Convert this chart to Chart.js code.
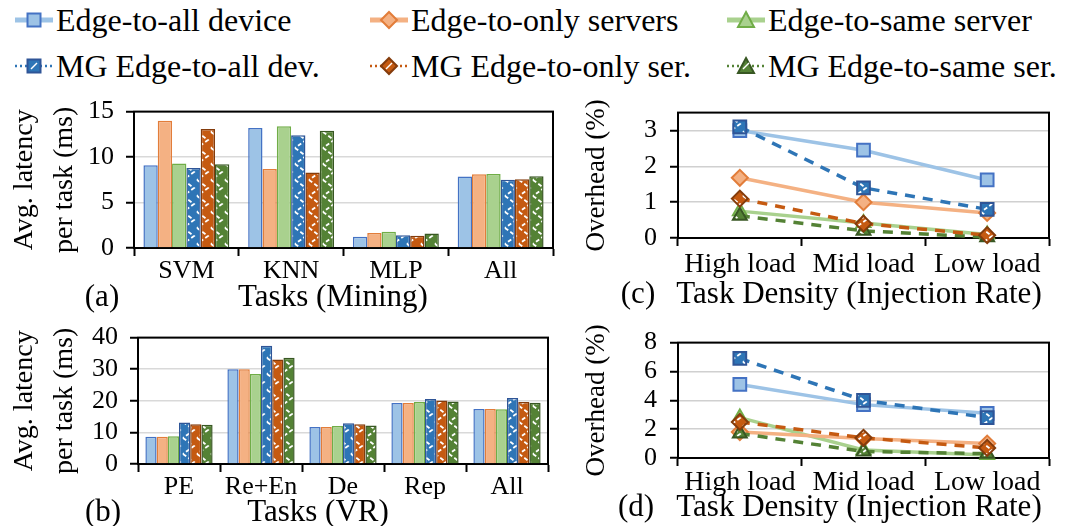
<!DOCTYPE html>
<html>
<head>
<meta charset="utf-8">
<script src="https://cdn.jsdelivr.net/npm/chart.js@4"></script>
<style>
  body { margin: 0; background: #fff; font-family: "Liberation Serif", "Times New Roman", serif; color: #000; }
  #page { position: relative; width: 1065px; height: 526px; overflow: hidden; }
  canvas { position: absolute; }
  .lbl { position: absolute; font-size: 31px; line-height: 1; white-space: nowrap; transform: translate(-50%, -50%); }
  .leg { position: absolute; font-size: 32px; line-height: 1; white-space: nowrap; display: flex; align-items: center; transform: translateY(-50%); }
  .leg svg { margin-right: 2px; }
</style>
</head>
<body>
<div id="page">
  <div id="legend"></div>
  <canvas id="chartA" width="560" height="200" style="left:0;top:84px"></canvas>
  <canvas id="chartB" width="560" height="190" style="left:0;top:310px"></canvas>
  <canvas id="chartC" width="505" height="200" style="left:560px;top:84px"></canvas>
  <canvas id="chartD" width="505" height="190" style="left:560px;top:314px"></canvas>
  <div class="lbl" style="left:102px;top:295px">(a)</div>
  <div class="lbl" style="left:333px;top:295px">Tasks (Mining)</div>
  <div class="lbl" style="left:103px;top:510px">(b)</div>
  <div class="lbl" style="left:318px;top:510px">Tasks (VR)</div>
  <div class="lbl" style="left:638px;top:292px">(c)</div>
  <div class="lbl" style="left:859px;top:292px">Task Density (Injection Rate)</div>
  <div class="lbl" style="left:636px;top:505px">(d)</div>
  <div class="lbl" style="left:859px;top:505px">Task Density (Injection Rate)</div>
</div>
<script>
/* ==================== DATA ==================== */
const seriesNames = ['Edge-to-all device', 'Edge-to-only servers', 'Edge-to-same server',
                     'MG Edge-to-all dev.', 'MG Edge-to-only ser.', 'MG Edge-to-same ser.'];

// (a) latency, mining tasks (ms)
const miningTasks = ['SVM', 'KNN', 'MLP', 'All'];
const miningAllDev    = [9.1, 13.2, 1.25, 7.85];
const miningOnlySrv   = [14.0, 8.7, 1.65, 8.1];
const miningSameSrv   = [9.3, 13.4, 1.8, 8.15];
const miningMgAllDev  = [8.8, 12.4, 1.4, 7.5];
const miningMgOnlySrv = [13.1, 8.3, 1.35, 7.55];
const miningMgSameSrv = [9.2, 12.9, 1.6, 7.9];

// (b) latency, VR tasks (ms)
const vrTasks = ['PE', 'Re+En', 'De', 'Rep', 'All'];
const vrAllDev    = [8.6, 30.0, 11.7, 19.3, 17.4];
const vrOnlySrv   = [8.6, 30.0, 11.7, 19.3, 17.4];
const vrSameSrv   = [8.8, 28.5, 12.0, 19.6, 17.3];
const vrMgAllDev  = [13.1, 37.4, 12.9, 20.6, 20.9];
const vrMgOnlySrv = [12.6, 33.1, 12.6, 20.1, 19.6];
const vrMgSameSrv = [12.4, 33.6, 12.2, 19.8, 19.4];

// (c) overhead, mining (%)
const loads = ['High load', 'Mid load', 'Low load'];
const ohMiningAllDev    = [3.0, 2.45, 1.62];
const ohMiningOnlySrv   = [1.68, 1.0, 0.7];
const ohMiningSameSrv   = [0.75, 0.42, 0.1];
const ohMiningMgAllDev  = [3.1, 1.4, 0.8];
const ohMiningMgOnlySrv = [1.1, 0.4, 0.08];
const ohMiningMgSameSrv = [0.62, 0.2, 0.02];

// (d) overhead, VR (%)
const ohVrAllDev    = [5.1, 3.7, 3.1];
const ohVrOnlySrv   = [1.8, 1.35, 1.0];
const ohVrSameSrv   = [2.8, 0.55, 0.2];
const ohVrMgAllDev  = [6.9, 4.0, 2.8];
const ohVrMgOnlySrv = [2.5, 1.4, 0.7];
const ohVrMgSameSrv = [1.7, 0.45, 0.3];

/* ==================== STYLE ==================== */
const fills  = ['#9DC3E6', '#F4B183', '#A9D18E', '#2E75B6', '#C55A11', '#548235'];
const edges  = ['#4472C4', '#E27D3A', '#70AD47', '#2F5597', '#843C0C', '#385723'];
const shapes = ['rect', 'rectRot', 'triangle', 'rect', 'rectRot', 'triangle'];

Chart.defaults.font.family = 'Liberation Serif';
Chart.defaults.color = '#000';

// white dashed zig-zag used on the MG bars / markers
function zigzag(color) {
  const c = document.createElement('canvas');
  c.width = 14; c.height = 16;
  const g = c.getContext('2d');
  g.fillStyle = color;
  g.fillRect(0, 0, 14, 16);
  g.strokeStyle = '#fff';
  g.lineWidth = 1.8;
  g.setLineDash([4, 2.5]);
  g.beginPath();
  g.moveTo(1, 0); g.lineTo(12, 8); g.lineTo(1, 16);
  g.stroke();
  return g.createPattern(c, 'repeat');
}
const barFill = fills.map((f, i) => i >= 3 ? zigzag(f) : f);

// black frame round the plot area
const framePlugin = {
  id: 'frame',
  beforeDatasetsDraw(chart) {
    const { ctx, chartArea: a } = chart;
    ctx.save();
    ctx.strokeStyle = '#000';
    ctx.lineWidth = 2;
    ctx.strokeRect(a.left, a.top, a.right - a.left, a.bottom - a.top);
    ctx.restore();
  }
};

/* ==================== LEGEND ==================== */
function iconSvg(i) {
  const mg = i >= 3;
  const line = mg
    ? `<line x1="1" y1="12" x2="39" y2="12" stroke="${fills[i]}" stroke-width="2.5" stroke-dasharray="2 3"/>`
    : `<line x1="1" y1="12" x2="39" y2="12" stroke="${fills[i]}" stroke-width="5"/>`;
  let m;
  if (shapes[i] === 'rect') m = `<rect x="13.5" y="5.5" width="13" height="13" fill="${fills[i]}" stroke="${edges[i]}" stroke-width="2"/>`;
  else if (shapes[i] === 'rectRot') m = `<polygon points="20,4 28,12 20,20 12,12" fill="${fills[i]}" stroke="${edges[i]}" stroke-width="2"/>`;
  else m = `<polygon points="20,4 28,19 12,19" fill="${fills[i]}" stroke="${edges[i]}" stroke-width="2"/>`;
  const slash = mg ? `<line x1="17" y1="15" x2="23" y2="9" stroke="#fff" stroke-width="1.5"/>` : '';
  return `<svg width="40" height="24" viewBox="0 0 40 24">${line}${m}${slash}</svg>`;
}
const legX = [14, 369, 726];
const legY = [20, 66];
document.getElementById('legend').innerHTML = seriesNames.map((n, i) =>
  `<div class="leg" style="left:${legX[i % 3]}px;top:${legY[Math.floor(i / 3)]}px">${iconSvg(i)}<span>${n}</span></div>`
).join('');

/* ==================== BAR CHARTS ==================== */
function barChart(id, labels, series, yMax, yStep, yWidth, padRight) {
  new Chart(document.getElementById(id), {
    type: 'bar',
    data: {
      labels,
      datasets: series.map((d, i) => ({
        label: seriesNames[i],
        data: d,
        backgroundColor: barFill[i],
        borderColor: edges[i],
        borderWidth: 1.5,
        categoryPercentage: 0.82,
        barPercentage: 1.0
      }))
    },
    options: {
      responsive: false,
      animation: false,
      devicePixelRatio: 1,
      layout: { padding: { top: 17, right: padRight, left: 0, bottom: 0 } },
      plugins: { legend: { display: false }, tooltip: { enabled: false } },
      scales: {
        x: {
          offset: true,
          grid: { offset: true, drawOnChartArea: false, tickLength: 8, tickColor: '#000', tickWidth: 2 },
          border: { color: '#000', width: 2 },
          ticks: { font: { size: 26 }, padding: 0, maxRotation: 0, autoSkip: false },
          afterFit: s => { s.height = 36; }
        },
        y: {
          min: 0, max: yMax,
          grid: { color: '#d9d9d9', lineWidth: 1.5, tickLength: 8, tickColor: '#000', tickWidth: 2 },
          border: { color: '#000', width: 2 },
          ticks: { stepSize: yStep, font: { size: 26 }, padding: 12, autoSkip: false },
          title: {
            display: true,
            text: ['Avg. latency', 'per task (ms)'],
            font: { size: 28, lineHeight: 1.43 },
            padding: { top: 5, bottom: 0 }
          },
          afterFit: s => { s.width = yWidth; }
        }
      }
    },
    plugins: [framePlugin]
  });
}

barChart('chartA', miningTasks,
  [miningAllDev, miningOnlySrv, miningSameSrv, miningMgAllDev, miningMgOnlySrv, miningMgSameSrv], 15, 5, 134, 7);
barChart('chartB', vrTasks,
  [vrAllDev, vrOnlySrv, vrSameSrv, vrMgAllDev, vrMgOnlySrv, vrMgSameSrv], 40, 10, 138, 12);

/* ==================== LINE CHARTS ==================== */
function lineChart(id, series, yMax, yStep, tickPad) {
  new Chart(document.getElementById(id), {
    type: 'line',
    data: {
      labels: loads,
      datasets: series.map((d, i) => {
        const mg = i >= 3;
        return {
          label: seriesNames[i],
          data: d,
          borderColor: fills[i],
          borderWidth: 3.5,
          borderDash: mg ? [10, 8] : [],
          tension: 0,
          clip: false,
          pointStyle: shapes[i],
          pointRadius: shapes[i] === 'rect' ? 9 : 8,
          pointBackgroundColor: mg ? barFill[i] : fills[i],
          pointBorderColor: edges[i],
          pointBorderWidth: 2,
          order: mg ? 0 : 1
        };
      })
    },
    options: {
      responsive: false,
      animation: false,
      devicePixelRatio: 1,
      layout: { padding: { top: 16.5, right: 16, left: 0, bottom: 0 } },
      plugins: { legend: { display: false }, tooltip: { enabled: false } },
      scales: {
        x: {
          offset: true,
          grid: { offset: true, drawOnChartArea: false, tickLength: 8, tickColor: '#000', tickWidth: 2 },
          border: { color: '#000', width: 2 },
          ticks: { font: { size: 28 }, padding: tickPad, maxRotation: 0, autoSkip: false },
          afterFit: s => { s.height = 46; }
        },
        y: {
          min: 0, max: yMax,
          grid: { color: '#d0d0d0', lineWidth: 1.5, tickLength: 8, tickColor: '#000', tickWidth: 2 },
          border: { color: '#000', width: 2 },
          ticks: {
            stepSize: yStep, includeBounds: false, autoSkip: false, font: { size: 26 }, padding: 13,
            callback: v => (v % yStep === 0 ? v : '')
          },
          title: {
            display: true,
            text: 'Overhead (%)',
            font: { size: 27, lineHeight: 1.2 },
            padding: { top: 21, bottom: 0 }
          },
          afterFit: s => { s.width = 118; }
        }
      }
    },
    plugins: [framePlugin]
  });
}

lineChart('chartC',
  [ohMiningAllDev, ohMiningOnlySrv, ohMiningSameSrv, ohMiningMgAllDev, ohMiningMgOnlySrv, ohMiningMgSameSrv], 3.5, 1, 2);
lineChart('chartD',
  [ohVrAllDev, ohVrOnlySrv, ohVrSameSrv, ohVrMgAllDev, ohVrMgOnlySrv, ohVrMgSameSrv], 8, 2, 0);
</script>
</body>
</html>
